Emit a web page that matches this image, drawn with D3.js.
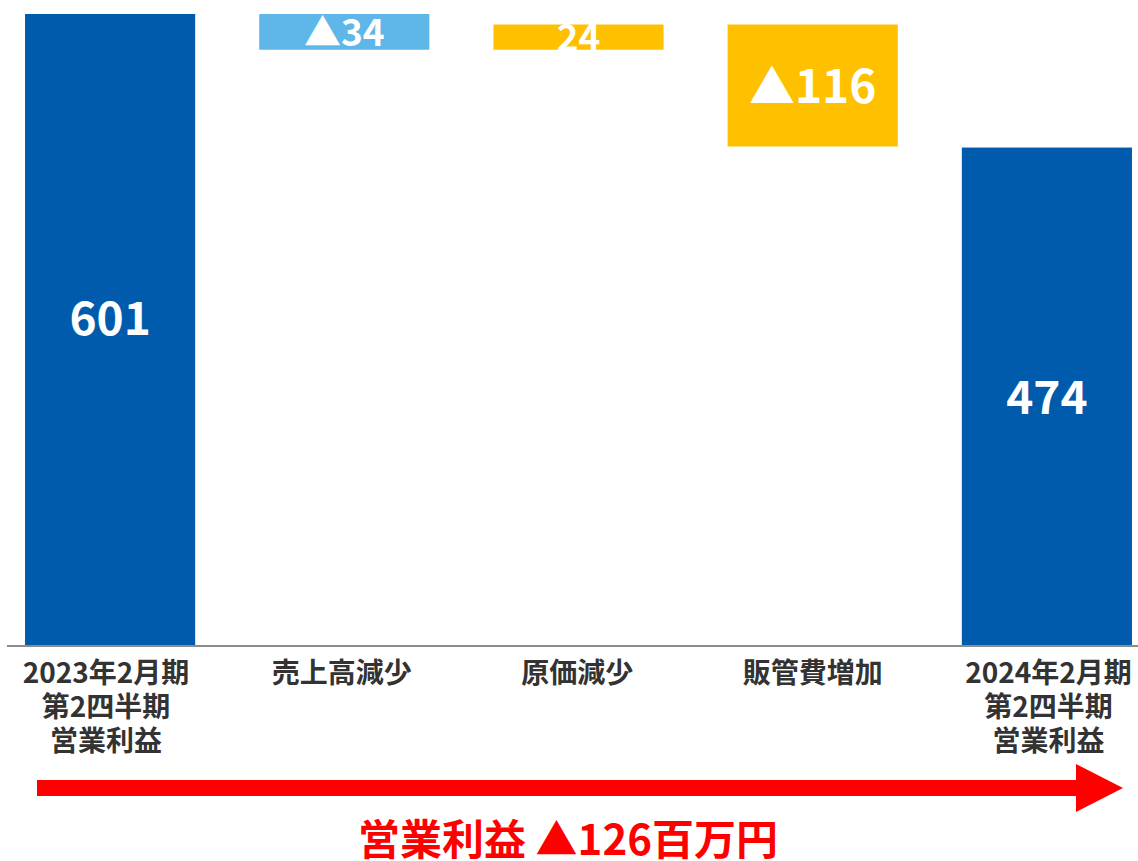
<!DOCTYPE html>
<html><head><meta charset="utf-8">
<script src="https://cdn.jsdelivr.net/npm/d3@7"></script>
<style>
html,body{margin:0;padding:0;background:#fff;}
svg{display:block;font-family:"Noto Sans CJK JP","Noto Sans",sans-serif;}
</style></head>
<body>
<svg id="chart" width="1138" height="861"></svg>
<script>
const categories = [
  ["2023年2月期","第2四半期","営業利益"],
  ["売上高減少"],
  ["原価減少"],
  ["販管費増加"],
  ["2024年2月期","第2四半期","営業利益"]
];
const values = [601, -34, 24, -116, 474];
const kinds = ["total","delta","delta","delta","total"];
const valueLabels = ["601","▲34","24","▲116","474"];
const summaryText = "営業利益 ▲126百万円";

const colors = ["#005BAC","#5EB7E8","#FFC000","#FFC000","#005BAC"];

// waterfall computation
let run = 0;
const bars = values.map((v,i)=>{
  let y0,y1;
  if(kinds[i]==="total"){ y0=0; y1=v; run=v; }
  else { y0=run; y1=run+v; run=y1; }
  return {i, v, y0:Math.min(y0,y1), y1:Math.max(y0,y1), label:valueLabels[i], cat:categories[i]};
});

const svg = d3.select("#chart");
const x = d3.scaleBand().domain(d3.range(values.length)).range([-7,1164]).paddingInner(0.2735).paddingOuter(0.1368);
const y = d3.scaleLinear().domain([0, d3.max(bars,d=>d.y1)]).range([646,14]);

svg.selectAll("rect.bar").data(bars).join("rect")
  .attr("class","bar")
  .attr("x",d=>x(d.i)).attr("width",x.bandwidth())
  .attr("y",d=>y(d.y1)).attr("height",d=>y(d.y0)-y(d.y1))
  .attr("fill",d=>colors[d.i]);

svg.selectAll("text.val").data(bars).join("text")
  .attr("class","val")
  .attr("x",d=>x(d.i)+x.bandwidth()/2)
  .attr("y",d=>{
    const h = y(d.y0)-y(d.y1);
    const fs = h>60?46:37;
    const mid = (y(d.y0)+y(d.y1))/2 + (d.i===0?-12:0);
    return mid + fs*0.375;
  })
  .attr("text-anchor","middle")
  .attr("font-size",d=>(y(d.y0)-y(d.y1))>60?46:37)
  .attr("font-weight",700)
  .attr("fill","#fff")
  .text(d=>d.label);

// baseline
svg.append("line").attr("x1",7).attr("x2",1138).attr("y1",y(0)).attr("y2",y(0))
  .attr("stroke","#8c8c8c").attr("stroke-width",2);

// category labels
const lx = d3.scalePoint().domain(d3.range(values.length)).range([102,1050]);
const catG = svg.selectAll("text.cat").data(bars).join("text")
  .attr("class","cat")
  .attr("text-anchor","middle")
  .attr("font-size",28).attr("font-weight",700).attr("fill","#333");
catG.selectAll("tspan").data(d=>d.cat.map(t=>({t,i:d.i}))).join("tspan")
  .attr("x",d=>(lx(d.i)+x(d.i)+x.bandwidth()/2)/2)
  .attr("y",(d,j)=>683+j*34)
  .text(d=>d.t);

// red arrow
const ay=788;
svg.append("path")
  .attr("d",`M37,${ay-8} L1076,${ay-8} L1076,${ay-24} L1123,${ay} L1076,${ay+24} L1076,${ay+8} L37,${ay+8} Z`)
  .attr("fill","#FF0000");

svg.append("text").attr("x",568).attr("y",855).attr("text-anchor","middle")
  .attr("font-size",42).attr("font-weight",700).attr("fill","#FF0000")
  .text(summaryText);
</script>
</body></html>
